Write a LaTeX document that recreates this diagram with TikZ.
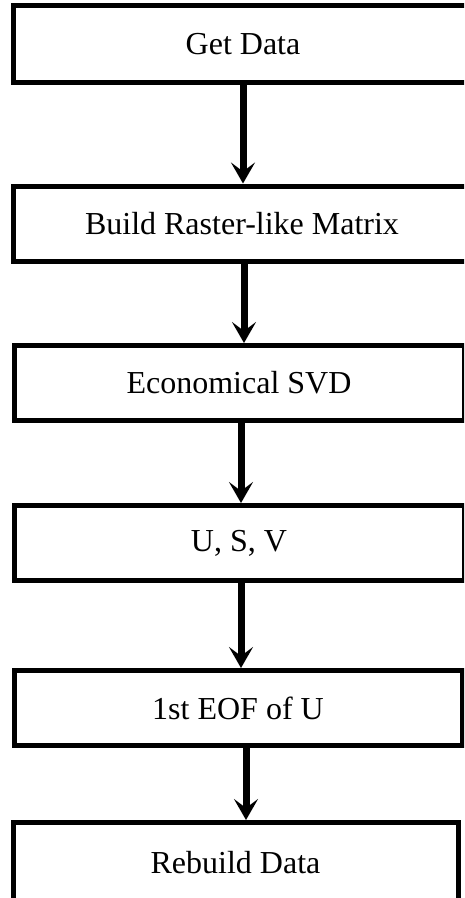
\documentclass[tikz,border=0pt]{standalone}
\usepackage{fontspec}
\setmainfont{Liberation Serif}
\usetikzlibrary{arrows.meta}

\tikzset{
  stepbox/.style={draw=black, line width=5pt, rectangle, fill=white,
    font=\fontsize{32}{38}\selectfont, inner sep=0pt},
  flow/.style={line width=7pt, draw=black,
    -{Stealth[length=21pt, width=24pt, inset=9pt]}}
}

\begin{document}
\begin{tikzpicture}[x=1pt, y=-1pt]
  \useasboundingbox (0,0) rectangle (464,898);
  \begin{scope}
    \clip (0,0) rectangle (464,898);

    % process steps, top to bottom
    \node[stepbox, minimum width=460pt, minimum height=76.7pt] (b1) at (243,44.2) {Get Data};
    \node[stepbox, minimum width=458pt, minimum height=75pt]   (b2) at (242,223.5) {Build Raster-like Matrix};
    \node[stepbox, minimum width=450pt, minimum height=75pt]   (b3) at (239,383) {Economical SVD};
    \node[stepbox, minimum width=450pt, minimum height=75pt]   (b4) at (239,543) {U, S, V};
    \node[stepbox, minimum width=448pt, minimum height=75pt]   (b5) at (238,708) {1st EOF of U};
    \node[stepbox, minimum width=445pt, minimum height=80pt]   (b6) at (235.5,862.5) {Rebuild Data};

    % connectors between steps
    \draw[flow] (b1.south) -- ([xshift=1pt]b2.north);
    \draw[flow] ([xshift=2pt]b2.south) -- ([xshift=5pt]b3.north);
    \draw[flow] ([xshift=2pt]b3.south) -- ([xshift=2pt]b4.north);
    \draw[flow] ([xshift=2pt]b4.south) -- ([xshift=3pt]b5.north);
    \draw[flow] ([xshift=8pt]b5.south) -- ([xshift=10.5pt]b6.north);
  \end{scope}
\end{tikzpicture}
\end{document}
